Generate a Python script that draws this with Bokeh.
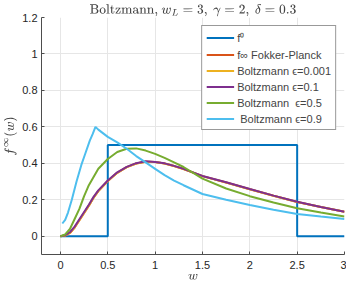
from bokeh.plotting import figure
from bokeh.models import Legend, LegendItem, FixedTicker
from bokeh.embed import file_html
from bokeh.resources import INLINE

# ---- data ----
w_f0 = [0.0, 0.5, 0.5, 2.5, 2.5, 3.0]
f0 = [0.0, 0.0, 0.5, 0.5, 0.0, 0.0]

w = [0.0, 0.05, 0.1, 0.15, 0.2, 0.25, 0.3, 0.35, 0.4, 0.5, 0.6, 0.7, 0.8, 0.9,
     1.0, 1.1, 1.2, 1.3, 1.5, 1.75, 2.0, 2.25, 2.5, 2.75, 3.0]
f_fp = [0.0, 0.004, 0.018, 0.048, 0.088, 0.128, 0.168, 0.212, 0.248, 0.303, 0.348,
        0.379, 0.399, 0.409, 0.407, 0.399, 0.385, 0.369, 0.33, 0.295, 0.258, 0.222,
        0.188, 0.16, 0.134]
f_b0001 = [0.0, 0.004, 0.018, 0.048, 0.088, 0.128, 0.168, 0.212, 0.248, 0.303, 0.348,
           0.379, 0.399, 0.409, 0.407, 0.399, 0.385, 0.369, 0.33, 0.295, 0.258, 0.222,
           0.188, 0.16, 0.134]
f_b01 = [0.0, 0.006, 0.022, 0.053, 0.093, 0.133, 0.173, 0.216, 0.252, 0.306, 0.351,
         0.381, 0.401, 0.411, 0.408, 0.400, 0.386, 0.370, 0.331, 0.296, 0.259, 0.223,
         0.189, 0.161, 0.135]
f_b05 = [0.0, 0.01, 0.04, 0.095, 0.15, 0.22, 0.28, 0.325, 0.37, 0.424, 0.462, 0.48,
         0.482, 0.47, 0.452, 0.43, 0.405, 0.38, 0.316, 0.262, 0.22, 0.185, 0.154,
         0.13, 0.108]
w_b09 = [0.02, 0.05, 0.08, 0.12, 0.17, 0.22, 0.26, 0.31, 0.34, 0.37, 0.4, 0.5, 0.6,
         0.7, 0.8, 0.9, 1.0, 1.1, 1.2, 1.3, 1.5, 1.75, 2.0, 2.25, 2.5, 2.75, 3.0]
f_b09 = [0.07, 0.09, 0.13, 0.20, 0.30, 0.39, 0.45, 0.525, 0.56, 0.60, 0.585, 0.545,
         0.515, 0.48, 0.44, 0.405, 0.37, 0.335, 0.305, 0.28, 0.232, 0.20, 0.172,
         0.145, 0.122, 0.108, 0.095]

x_ticks = [0, 0.5, 1, 1.5, 2, 2.5, 3]
y_ticks = [0, 0.2, 0.4, 0.6, 0.8, 1.0, 1.2]

labels = ["f\u2070", "f\u221e Fokker-Planck", "Boltzmann \u03f5=0.001",
          "Boltzmann \u03f5=0.1", "Boltzmann  \u03f5=0.5", " Boltzmann \u03f5=0.9"]
colors = ["#0072BD", "#D95319", "#EDB120", "#7E2F8E", "#77AC30", "#4DBEEE"]

p = figure(frame_width=303, frame_height=237, output_backend="svg", toolbar_location=None,
           x_range=(-0.2, 3.0), y_range=(-0.1, 1.2),
           min_border_left=0, min_border_right=2, min_border_top=0, min_border_bottom=0)

p.title.text = r"$$\text{Boltzmann, } w_L = 3,\ \gamma = 2,\ \delta = \text{0.3}$$"
p.title.align = "center"
p.title.text_font_size = "11.5px"
p.title.text_font_style = "normal"
p.title.standoff = 2

series = [(w_f0, f0), (w, f_fp), (w, f_b0001), (w, f_b01), (w, f_b05), (w_b09, f_b09)]
items = []
for (xs, ys), c, lab in zip(series, colors, labels):
    r = p.line(xs, ys, line_color=c, line_width=2)
    items.append(LegendItem(label=lab, renderers=[r]))

legend = Legend(items=items, location="top_right")
legend.label_text_font = "Liberation Sans"
legend.label_text_font_size = "11px"
legend.label_height = 13
legend.glyph_height = 13
legend.glyph_width = 28
legend.spacing = 3
legend.padding = 4
legend.margin = 8
legend.label_standoff = 3
legend.border_line_color = "#333333"
legend.border_line_width = 1
legend.background_fill_alpha = 1
p.add_layout(legend)

p.outline_line_color = None
for ax in (p.xaxis, p.yaxis):
    ax.axis_line_color = "#4d4d4d"
    ax.major_tick_line_color = "#4d4d4d"
    ax.major_tick_in = 3
    ax.major_tick_out = 0
    ax.minor_tick_line_color = None
    ax.major_label_text_font = "Liberation Sans"
    ax.major_label_text_font_size = "11px"
    ax.major_label_text_color = "#262626"
    ax.axis_label_text_font_size = "11px"
    ax.axis_label_text_font_style = "normal"
    ax.major_label_standoff = 4

p.xaxis.major_label_standoff = 6
p.xaxis.ticker = FixedTicker(ticks=x_ticks)
p.yaxis.ticker = FixedTicker(ticks=y_ticks)
p.xaxis.major_label_overrides = {0: "0", 0.5: "0.5", 1: "1", 1.5: "1.5", 2: "2", 2.5: "2.5", 3: "3"}
p.yaxis.major_label_overrides = {0: "0", 0.2: "0.2", 0.4: "0.4", 0.6: "0.6", 0.8: "0.8", 1.0: "1", 1.2: "1.2"}
p.xaxis.axis_label = r"$$w$$"
p.yaxis.axis_label = r"$$f^{\infty}(w)$$"
p.xaxis.axis_label_standoff = 2
p.yaxis.axis_label_standoff = 2

p.xgrid.ticker = FixedTicker(ticks=x_ticks)
p.ygrid.ticker = FixedTicker(ticks=y_ticks)
p.grid.grid_line_color = "#e6e6e6"

open("out.html", "w").write(file_html(p, INLINE))
